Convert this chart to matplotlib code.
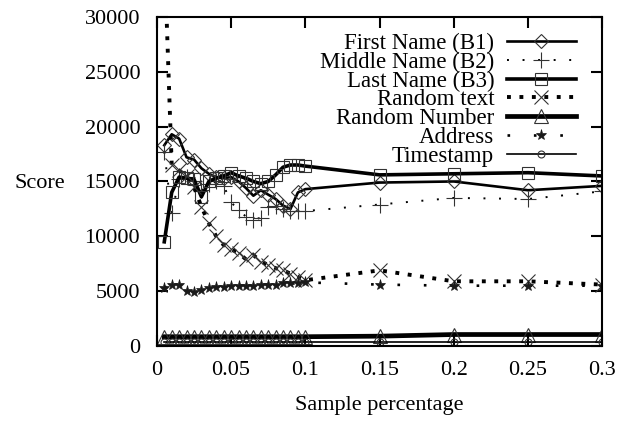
import matplotlib
matplotlib.use("Agg")
from matplotlib import pyplot as plt

plt.rcParams["font.family"] = ["Liberation Serif", "DejaVu Serif"]

# sample percentages
x = [0.005, 0.01, 0.015, 0.02, 0.025, 0.03, 0.035, 0.04, 0.045, 0.05,
     0.055, 0.06, 0.065, 0.07, 0.075, 0.08, 0.085, 0.09, 0.095, 0.1,
     0.15, 0.2, 0.25, 0.3]

first_name = [18300, 19300, 18900, 17200, 17000, 16200, 15700, 15400, 15300, 15400,
              15000, 14400, 13700, 14200, 13800, 13400, 12800, 12500, 14000, 14300,
              14900, 15000, 14200, 14600]
middle_name = [17700, 12100, 15200, 15400, 15000, 14200, 14800, 15000, 14600, 13100,
               12400, 11800, 11500, 11700, 12700, 12800, 12500, 12300, 12300, 12300,
               12900, 13500, 13400, 14100]
last_name = [9500, 14000, 15400, 15300, 15200, 13600, 15000, 15300, 15500, 15800,
             15500, 15300, 15000, 14800, 15000, 15600, 16300, 16500, 16500, 16400,
             15600, 15700, 15800, 15500]
random_text = [36000, 16500, 16000, 15500, 14500, 12700, 11200, 10000, 9200, 8800,
               8500, 7900, 8300, 7700, 7400, 7100, 6900, 6600, 6300, 6000,
               6900, 5900, 5900, 5600]
random_number = [850, 850, 850, 850, 850, 850, 850, 850, 850, 850,
                 850, 850, 850, 850, 850, 850, 850, 850, 850, 850,
                 900, 1050, 1050, 1050]
address = [5300, 5600, 5600, 5000, 4900, 5100, 5300, 5400, 5400, 5500,
           5500, 5500, 5500, 5600, 5600, 5600, 5700, 5700, 5700, 5800,
           5600, 5500, 5500, 5500]
timestamp = [400, 400, 400, 400, 400, 400, 400, 400, 400, 400,
             400, 400, 400, 400, 400, 400, 400, 400, 400, 400,
             400, 400, 400, 400]

x_ticks = [0, 0.05, 0.1, 0.15, 0.2, 0.25, 0.3]
x_tick_labels = ["0", "0.05", "0.1", "0.15", "0.2", "0.25", "0.3"]
y_ticks = [0, 5000, 10000, 15000, 20000, 25000, 30000]

fig = plt.figure(figsize=(6.3, 4.22), dpi=100)
ax = fig.add_axes([0.249, 0.180, 0.707, 0.780])

mk = dict(color="black", markeredgecolor="0.2", markerfacecolor="none", markeredgewidth=0.8)

ax.plot(x, first_name, linestyle="-", linewidth=1.9, marker="D", markersize=7,
        label="First Name (B1)", **mk)
ax.plot(x, middle_name, linestyle=(0, (1, 7)), linewidth=1.4, marker="+", markersize=11,
        label="Middle Name (B2)", **mk)
ax.plot(x, last_name, linestyle="-", linewidth=2.6, marker="s", markersize=8.5,
        label="Last Name (B3)", **mk)
ax.plot(x, random_text, linestyle=(0, (1, 2.2)), linewidth=2.8, marker="x", markersize=10,
        label="Random text", **mk)
ax.plot(x, random_number, linestyle="-", linewidth=3.4, marker="^", markersize=9.5,
        label="Random Number", **mk)
ax.plot(x, address, linestyle=(0, (1, 9)), linewidth=1.9, marker="*", markersize=8,
        label="Address", color="black", markeredgecolor="0.1", markerfacecolor="0.1",
        markeredgewidth=0.5)
ax.plot(x, timestamp, linestyle="-", linewidth=1.2, marker="o", markersize=5,
        label="Timestamp", **mk)

for line in ax.get_lines():
    line.set_dash_capstyle("butt")

ax.set_xlim(0, 0.3)
ax.set_ylim(0, 30000)
ax.set_xticks(x_ticks)
ax.set_xticklabels(x_tick_labels)
ax.set_yticks(y_ticks)

for s in ax.spines.values():
    s.set_linewidth(1.5)
ax.tick_params(direction="in", top=True, right=True, length=8, width=1.5,
               labelsize=16)
ax.tick_params(axis="y", pad=12)
ax.tick_params(axis="x", pad=11)

ax.set_ylabel("Score", rotation=0, fontsize=16, ha="center", va="center")
ax.yaxis.set_label_coords(-0.263, 0.495)
ax.set_xlabel("Sample percentage", fontsize=16)
ax.xaxis.set_label_coords(0.5, -0.152)

leg = ax.legend(loc="upper right", bbox_to_anchor=(0.94, 0.952), frameon=False,
                markerfirst=False, fontsize=16.5, handlelength=3.0, handletextpad=0.55,
                labelspacing=-0.1, borderaxespad=0, borderpad=0)

fig.savefig("out.png", dpi=100)
